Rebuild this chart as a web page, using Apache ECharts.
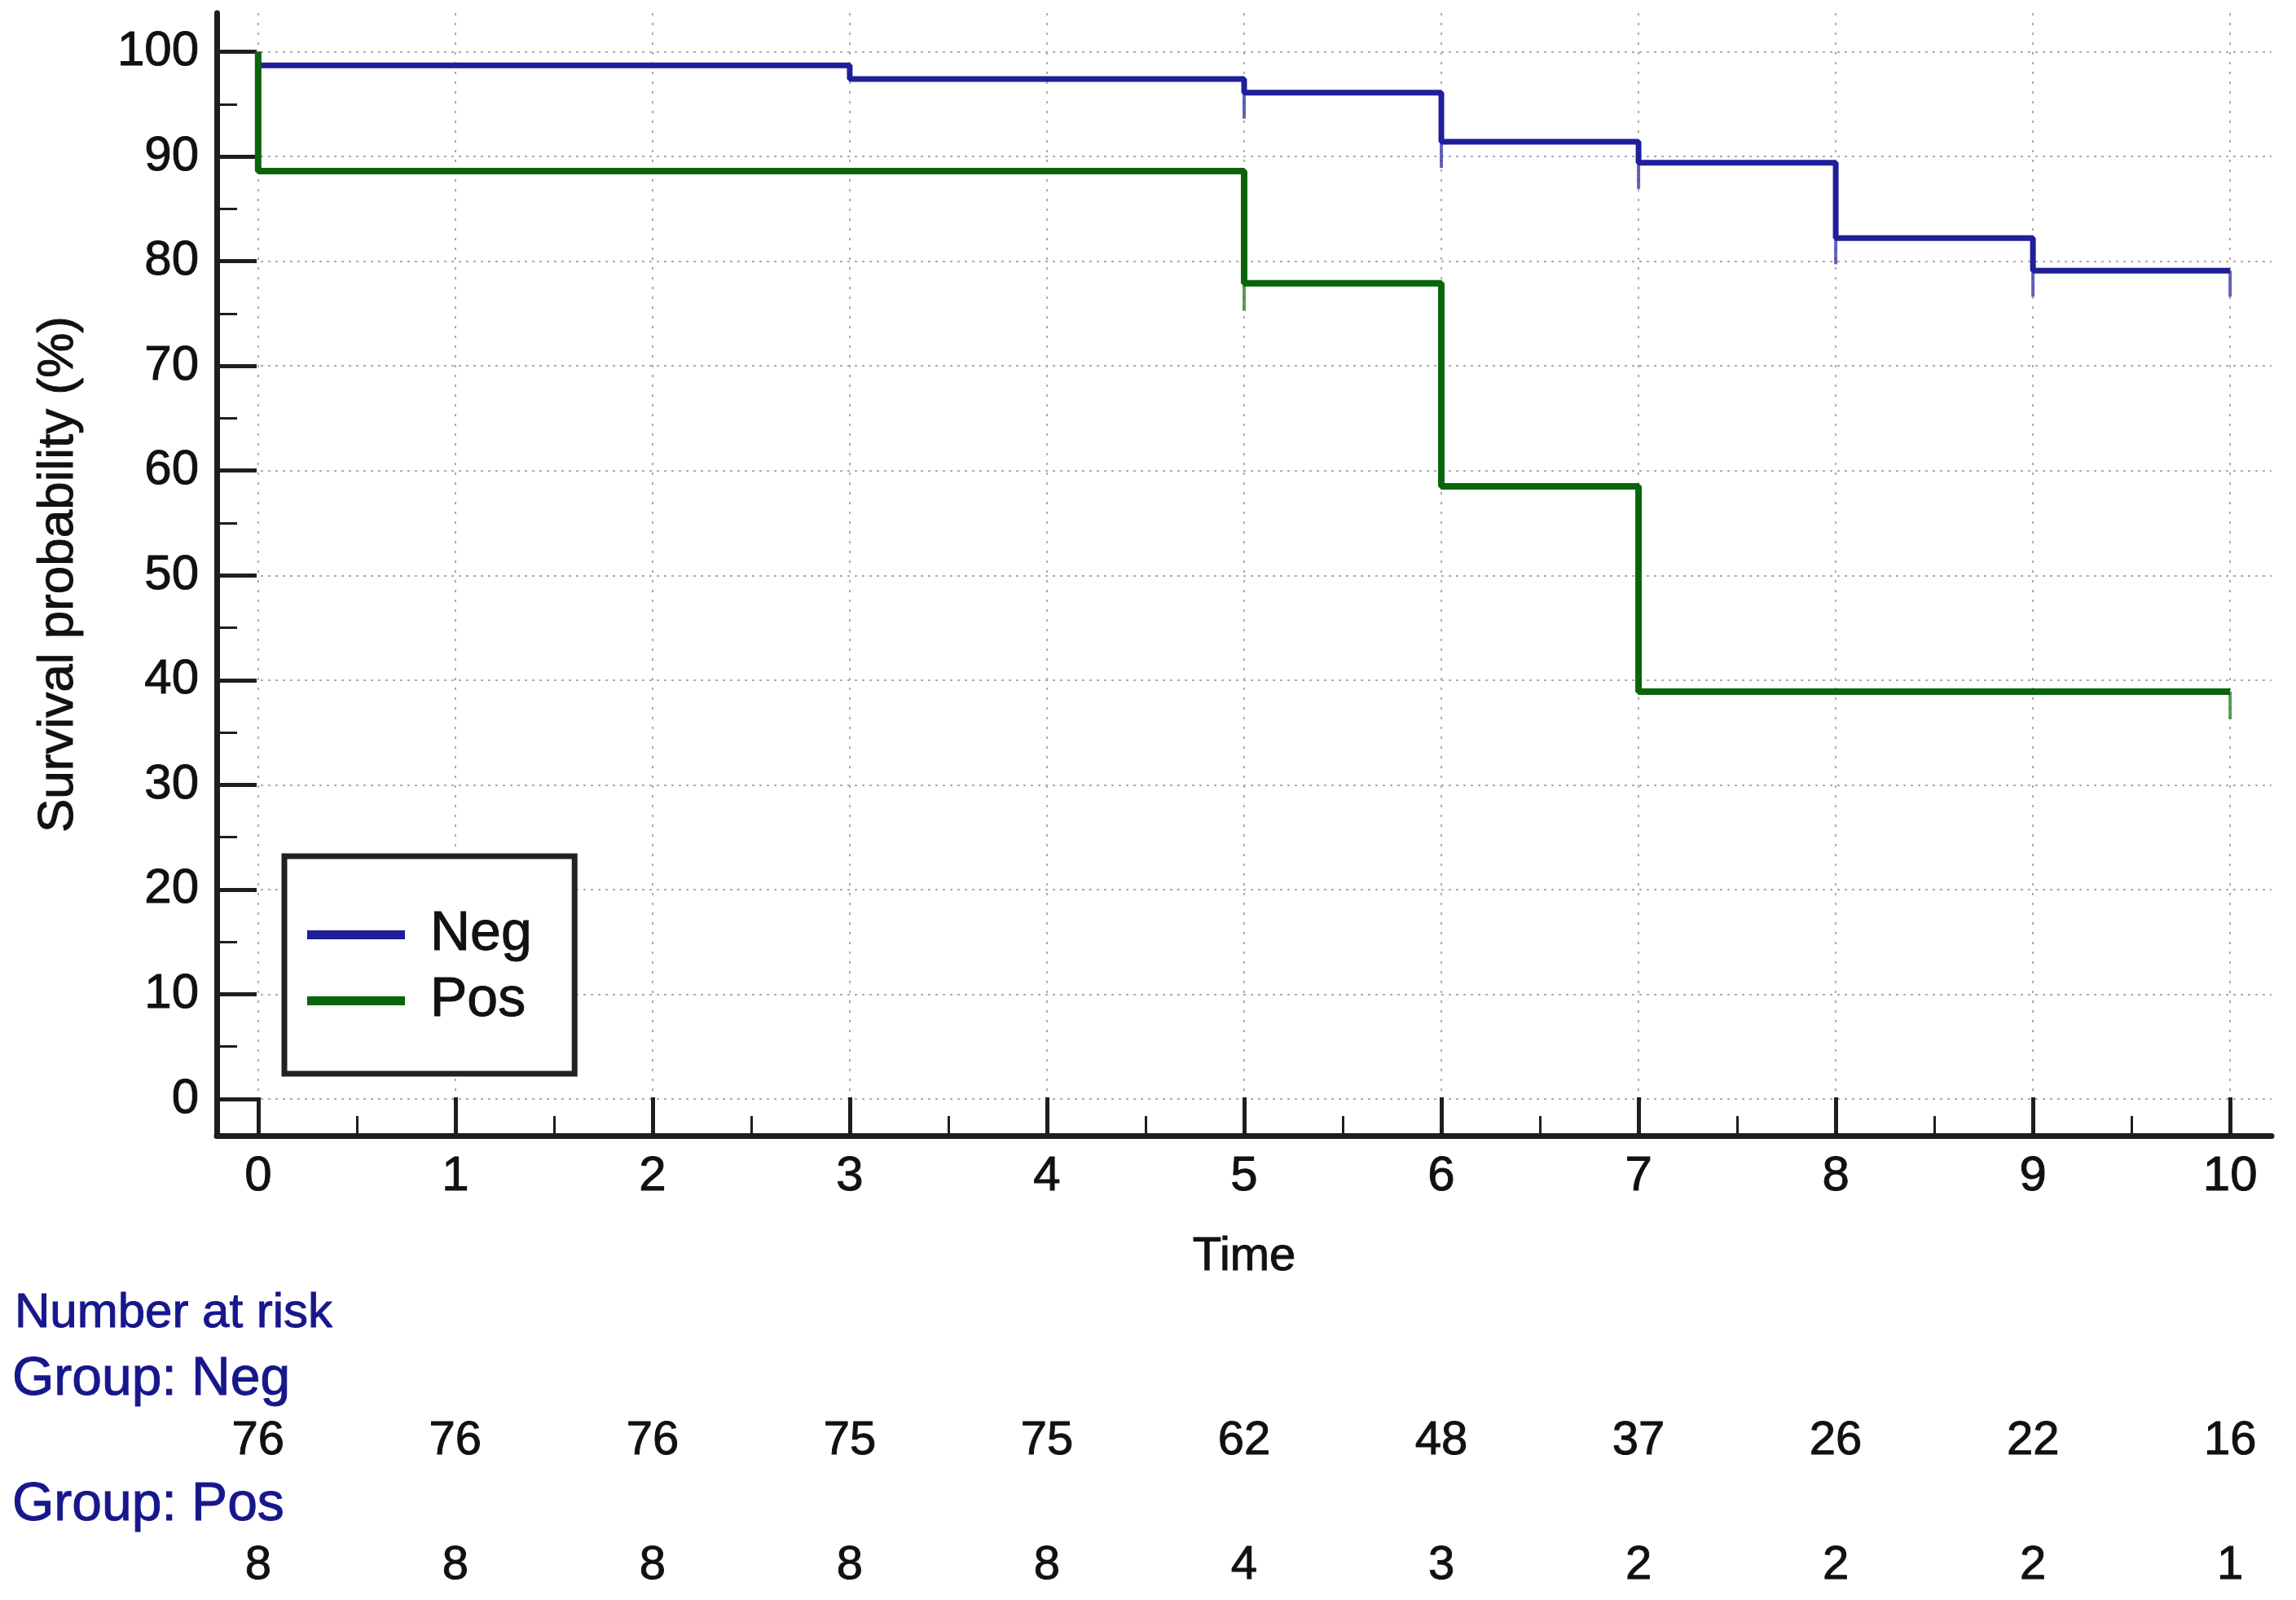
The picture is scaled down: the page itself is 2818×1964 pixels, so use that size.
<!DOCTYPE html>
<html>
<head>
<meta charset="utf-8">
<script src="https://cdn.jsdelivr.net/npm/echarts@6/dist/echarts.min.js"></script>
<style>
html,body{margin:0;padding:0;background:#fff;}
#chart{width:2818px;height:1964px;}
</style>
</head>
<body>
<div id="chart"></div>
<script>
// ---- data ----
var timeTicks = [0, 1, 2, 3, 4, 5, 6, 7, 8, 9, 10];
var timeMinorTicks = [0.5, 1.5, 2.5, 3.5, 4.5, 5.5, 6.5, 7.5, 8.5, 9.5];
var survTicks = [0, 10, 20, 30, 40, 50, 60, 70, 80, 90, 100];
var survMinorTicks = [5, 15, 25, 35, 45, 55, 65, 75, 85, 95];

var negTimes  = [0, 0, 3, 5, 6, 7, 8, 9, 10];
var negSurv   = [100, 98.7, 97.4, 96.1, 91.4, 89.4, 82.2, 79.1, 79.1];
var posTimes  = [0, 0, 5, 6, 7, 10];
var posSurv   = [100, 88.6, 77.9, 58.5, 38.9, 38.9];

var negCensorTimes = [5, 6, 7, 8, 9, 10];
var negCensorSurv  = [96.1, 91.4, 89.4, 82.2, 79.1, 79.1];
var posCensorTimes = [5, 10];
var posCensorSurv  = [77.9, 38.9];

var negAtRisk = [76, 76, 76, 75, 75, 62, 48, 37, 26, 22, 16];
var posAtRisk = [8, 8, 8, 8, 8, 4, 3, 2, 2, 2, 1];

function zip(a, b) { return a.map(function (v, i) { return [v, b[i]]; }); }

var FONT = '"Liberation Sans", Arial, sans-serif';
var AX = '#1e1e1e';
var NEG = '#1f1f9a';
var POS = '#0a650a';
var HEAD = '#17178c';
var TXT = '#111';

var XMIN = -0.21, XMAX = 10.21, YMIN = -3.5, YMAX = 103.7;

var chart = echarts.init(document.getElementById('chart'));

function hiddenX(extra) {
  var base = {
    type: 'value', gridIndex: 0, position: 'bottom', min: XMIN, max: XMAX,
    axisLine: { show: false, onZero: false },
    axisTick: { show: false },
    axisLabel: { show: false },
    splitLine: { show: false }
  };
  return Object.assign(base, extra);
}

function ts(size, color) {
  return { fontFamily: FONT, fontSize: size, fontWeight: 'normal', color: color,
           textBorderColor: color, textBorderWidth: 1 };
}

var option = {
  backgroundColor: '#fff',
  animation: false,
  textStyle: { fontFamily: FONT },
  title: [
    { text: 'Number at risk', left: 18, top: 1582, padding: 0, textStyle: ts(60, HEAD) },
    { text: 'Group: Neg', left: 15, top: 1661, padding: 0, textStyle: ts(66, HEAD) },
    { text: 'Group: Pos', left: 15, top: 1815, padding: 0, textStyle: ts(66, HEAD) }
  ],
  legend: {
    data: ['Neg', 'Pos'],
    orient: 'vertical',
    left: 349, top: 1051,
    padding: [62, 52, 55, 28],
    itemGap: 12,
    itemWidth: 120, itemHeight: 11,
    icon: 'rect',
    backgroundColor: '#fff',
    borderColor: '#222', borderWidth: 7,
    selectedMode: false,
    textStyle: Object.assign(ts(68, TXT), { lineHeight: 66, padding: [0, 0, 0, 26] })
  },
  grid: { left: 266, right: 30, top: 16, bottom: 570, containLabel: false },
  xAxis: [
    {
      type: 'value', gridIndex: 0, position: 'bottom', min: XMIN, max: XMAX,
      name: 'Time', nameLocation: 'middle', nameGap: 120,
      nameTextStyle: ts(58, TXT),
      axisLine: { show: true, onZero: false, lineStyle: { color: AX, width: 7, cap: 'round' } },
      axisTick: { show: true, inside: true, length: 47, customValues: timeTicks,
                  lineStyle: { color: AX, width: 5 } },
      axisLabel: Object.assign({ show: true, customValues: timeTicks, margin: 20 }, ts(60, TXT)),
      splitLine: { show: true, lineStyle: { color: '#ababab', width: 2, type: [3, 9] } }
    },
    hiddenX({
      axisTick: { show: true, inside: true, length: 24, customValues: timeMinorTicks,
                  lineStyle: { color: AX, width: 3 } }
    }),
    hiddenX({
      offset: 328,
      axisLabel: Object.assign({ show: true, customValues: timeTicks, margin: 18,
                   formatter: function (v) { return String(negAtRisk[timeTicks.indexOf(v)]); } },
                   ts(58, TXT))
    }),
    hiddenX({
      offset: 481,
      axisLabel: Object.assign({ show: true, customValues: timeTicks, margin: 18,
                   formatter: function (v) { return String(posAtRisk[timeTicks.indexOf(v)]); } },
                   ts(58, TXT))
    })
  ],
  yAxis: [
    {
      type: 'value', gridIndex: 0, position: 'left', min: YMIN, max: YMAX,
      name: 'Survival probability (%)', nameLocation: 'middle', nameGap: 163,
      nameTextStyle: ts(62, TXT),
      axisLine: { show: true, onZero: false, lineStyle: { color: AX, width: 7, cap: 'round' } },
      axisTick: { show: true, inside: true, length: 49, customValues: survTicks,
                  lineStyle: { color: AX, width: 5 } },
      axisLabel: Object.assign({ show: true, customValues: survTicks, margin: 22,
                   padding: [0, 0, 12, 0] }, ts(60, TXT)),
      splitLine: { show: true, lineStyle: { color: '#ababab', width: 2, type: [3, 6] } }
    },
    {
      type: 'value', gridIndex: 0, position: 'left', min: YMIN, max: YMAX,
      axisLine: { show: false, onZero: false },
      axisTick: { show: true, inside: true, length: 25, customValues: survMinorTicks,
                  lineStyle: { color: AX, width: 3 } },
      axisLabel: { show: false },
      splitLine: { show: false }
    }
  ],
  series: [
    {
      name: 'Neg', type: 'line', step: 'end', xAxisIndex: 0, yAxisIndex: 0,
      data: zip(negTimes, negSurv), showSymbol: false, symbol: 'none',
      color: NEG, lineStyle: { color: NEG, width: 7 }, z: 3
    },
    {
      name: 'Pos', type: 'line', step: 'end', xAxisIndex: 0, yAxisIndex: 0,
      data: zip(posTimes, posSurv), showSymbol: false, symbol: 'none',
      color: POS, lineStyle: { color: POS, width: 8 }, z: 4
    },
    {
      name: 'Neg censored', type: 'scatter', xAxisIndex: 0, yAxisIndex: 0,
      data: zip(negCensorTimes, negCensorSurv),
      symbol: 'rect', symbolSize: [4, 32], symbolOffset: [0, 16],
      itemStyle: { color: '#3c3ca8' }, z: 2, silent: true
    },
    {
      name: 'Pos censored', type: 'scatter', xAxisIndex: 0, yAxisIndex: 0,
      data: zip(posCensorTimes, posCensorSurv),
      symbol: 'rect', symbolSize: [4, 34], symbolOffset: [0, 17],
      itemStyle: { color: '#2f852f' }, z: 2, silent: true
    }
  ]
};

chart.setOption(option);
</script>
</body>
</html>
